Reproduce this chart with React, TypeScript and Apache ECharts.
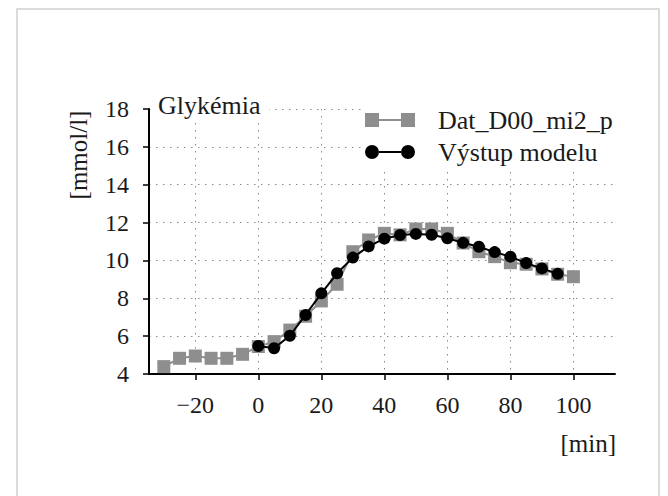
import React, { useEffect, useRef } from "react";
import * as echarts from "echarts";

const measuredMinutes = [-30, -25, -20, -15, -10, -5, 0, 5, 10, 15, 20, 25, 30, 35, 40, 45, 50, 55, 60, 65, 70, 75, 80, 85, 90, 95, 100];
const measuredValues = [4.39, 4.83, 4.95, 4.83, 4.83, 5.04, 5.45, 5.71, 6.32, 7.05, 7.86, 8.74, 10.46, 11.08, 11.43, 11.35, 11.66, 11.66, 11.43, 10.92, 10.46, 10.2, 9.88, 9.8, 9.55, 9.27, 9.14];
const modelMinutes = [0, 5, 10, 15, 20, 25, 30, 35, 40, 45, 50, 55, 60, 65, 70, 75, 80, 85, 90, 95];
const modelValues = [5.48, 5.36, 6.02, 7.12, 8.26, 9.32, 10.15, 10.74, 11.15, 11.34, 11.4, 11.36, 11.17, 10.93, 10.72, 10.44, 10.2, 9.86, 9.58, 9.29];
const xTicks = [-20, 0, 20, 40, 60, 80, 100];
const seriesNames = ["Dat_D00_mi2_p", "Výstup modelu"];
const panelTitle = "Glykémia";
const yUnit = "[mmol/l]";
const xUnit = "[min]";

const FONT = "Liberation Serif";
const TEXT = "#1a1a1a";

const squareIcon = "path://M0,0h14v14h-14Z M14,6h22v2h-22Z M36,0h14v14h-14Z";
const circleIcon = "path://M0,7a7,7 0 1,0 14,0a7,7 0 1,0 -14,0Z M14,6h22v2h-22Z M36,7a7,7 0 1,0 14,0a7,7 0 1,0 -14,0Z";

export default function App() {
  const ref = useRef<HTMLDivElement>(null);
  useEffect(() => {
    if (!ref.current) return;
    const chart = echarts.init(ref.current, null, { renderer: "svg" });
    const fmt = (v: number) => (v < 0 ? "\u2212" + Math.abs(v) : String(v));
    chart.setOption({
      animation: false,
      backgroundColor: "#ffffff",
      textStyle: { fontFamily: FONT },
      grid: { left: 149, top: 109, width: 466, height: 265, containLabel: false },
      xAxis: {
        type: "value",
        min: -34.7,
        max: 113.2,
        axisLine: { show: true, onZero: false, lineStyle: { color: "#000", width: 2 } },
        axisTick: { show: true, inside: false, length: 6, customValues: xTicks, lineStyle: { color: "#000", width: 1.5 } },
        axisLabel: { customValues: xTicks, formatter: fmt, margin: 19, fontFamily: FONT, fontSize: 24, color: TEXT },
        splitLine: { show: true, lineStyle: { color: "#8a8a8a", width: 1, type: [1.5, 5.5] } },
      },
      yAxis: {
        type: "value",
        min: 4,
        max: 18,
        interval: 2,
        axisLine: { show: true, onZero: false, lineStyle: { color: "#000", width: 2 } },
        axisTick: { show: true, inside: false, length: 6, lineStyle: { color: "#000", width: 1.5 } },
        axisLabel: { margin: 20, fontFamily: FONT, fontSize: 24, color: TEXT },
        splitLine: { show: true, lineStyle: { color: "#8a8a8a", width: 1, type: [1.5, 5.5] } },
      },
      legend: {
        orient: "vertical",
        left: 361,
        top: 104,
        itemWidth: 50,
        itemHeight: 14,
        itemGap: 6,
        padding: [3, 4, 2, 4],
        backgroundColor: "#ffffff",
        z: 10,
        textStyle: { fontFamily: FONT, fontSize: 26, color: TEXT, lineHeight: 24, padding: [0, 0, 0, 18] },
        data: [
          { name: seriesNames[0], icon: squareIcon },
          { name: seriesNames[1], icon: circleIcon },
        ],
      },
      graphic: [
        {
          type: "rect",
          silent: true,
          shape: { x: 17, y: 9, width: 642, height: 520 },
          style: { fill: "none", stroke: "#dcdcdc", lineWidth: 2 },
          z: 1,
        },
        {
          type: "rect",
          silent: true,
          shape: { x: 151, y: 95, width: 118, height: 26 },
          style: { fill: "#ffffff" },
          z: 10,
        },
        {
          type: "text",
          silent: true,
          x: 158,
          y: 105,
          z: 11,
          style: { text: panelTitle, font: "26px Liberation Serif", fill: TEXT, align: "left", verticalAlign: "middle" },
        },
        {
          type: "text",
          silent: true,
          x: 78,
          y: 155,
          rotation: Math.PI / 2,
          z: 11,
          style: { text: yUnit, font: "25px Liberation Serif", fill: TEXT, align: "center", verticalAlign: "middle" },
        },
        {
          type: "text",
          silent: true,
          x: 616,
          y: 443,
          z: 11,
          style: { text: xUnit, font: "25px Liberation Serif", fill: TEXT, align: "right", verticalAlign: "middle" },
        },
      ],
      series: [
        {
          name: seriesNames[0],
          type: "line",
          data: measuredMinutes.map((m, i) => [m, measuredValues[i]]),
          symbol: "rect",
          symbolSize: 13,
          itemStyle: { color: "#8e8e8e" },
          lineStyle: { color: "#8e8e8e", width: 2 },
          z: 2,
        },
        {
          name: seriesNames[1],
          type: "line",
          data: modelMinutes.map((m, i) => [m, modelValues[i]]),
          symbol: "circle",
          symbolSize: 12,
          itemStyle: { color: "#000000" },
          lineStyle: { color: "#000000", width: 2 },
          z: 3,
        },
      ],
    });
    return () => chart.dispose();
  }, []);
  return <div ref={ref} style={{ position: "absolute", left: 0, top: 0, width: 668, height: 496 }} />;
}
